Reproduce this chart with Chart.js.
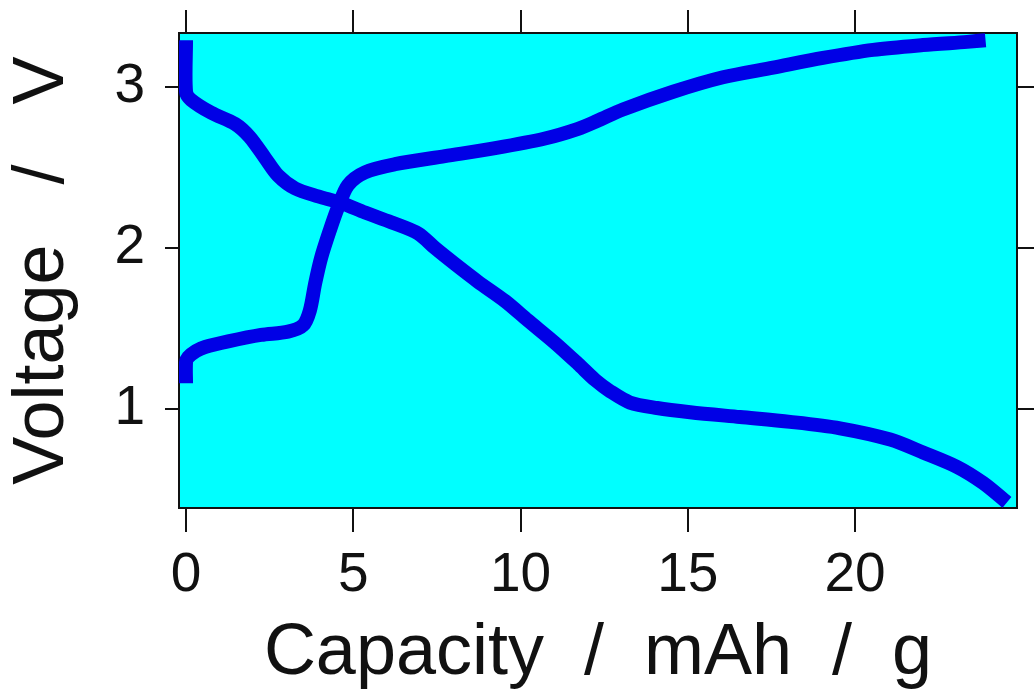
<!DOCTYPE html>
<html>
<head>
<meta charset="utf-8">
<script src="https://cdn.jsdelivr.net/npm/chart.js@4.4.0/dist/chart.umd.min.js"></script>
<style>
  html, body { margin: 0; padding: 0; background: #fff; }
  canvas { display: block; }
</style>
</head>
<body>
<canvas id="voltageChart" width="1034" height="697"></canvas>
<script>
// charge curve (voltage rising)
const chargeCapacity = [0, 0, 0.06, 0.3, 0.57, 1.26, 2.24, 3.05, 3.5, 3.7, 3.86, 4.04, 4.3, 4.54, 4.84, 5.35, 6.25, 7.74, 9.24, 10.73, 11.72, 12.3, 13.06, 14.56, 16.05, 17.55, 19.04, 20.54, 22.03, 23.35, 23.9]
const chargeVoltage = [1.16, 1.29, 1.32, 1.36, 1.385, 1.42, 1.46, 1.48, 1.52, 1.61, 1.78, 1.94, 2.11, 2.25, 2.39, 2.47, 2.52, 2.57, 2.62, 2.68, 2.74, 2.79, 2.86, 2.97, 3.06, 3.12, 3.18, 3.23, 3.26, 3.28, 3.29]

// discharge curve (voltage falling)
const dischargeCapacity = [0, 0, 0.15, 0.75, 1.47, 1.9, 2.36, 2.75, 3.26, 3.95, 4.63, 5.35, 6.13, 6.94, 7.44, 8.04, 8.73, 9.54, 10.22, 11.03, 11.72, 12.23, 12.68, 13.27, 14.08, 15.07, 16.56, 18.06, 19.55, 21.05, 22.03, 23.05, 23.83, 24.54]
const dischargeVoltage = [3.29, 2.97, 2.92, 2.84, 2.77, 2.69, 2.56, 2.45, 2.37, 2.32, 2.28, 2.22, 2.16, 2.09, 2.0, 1.9, 1.79, 1.67, 1.55, 1.41, 1.28, 1.18, 1.11, 1.04, 1.006, 0.98, 0.95, 0.92, 0.88, 0.81, 0.73, 0.64, 0.54, 0.42]

const xTicks = [0, 5, 10, 15, 20]
const yTicks = [1, 2, 3]

const tickFont = "'Liberation Sans Narrow', 'Liberation Sans', Arial, sans-serif"
const titleFont = "'Liberation Sans', Arial, sans-serif"
const ink = '#111'
const lineBlue = '#0000e6'

const toPoints = (xs, ys) => xs.map((x, i) => ({x: x, y: ys[i]}))

const plotBackground = {
    id: 'plotBackground',
    beforeDraw(chart) {
        const {ctx, chartArea} = chart
        ctx.save()
        ctx.fillStyle = '#00ffff'
        ctx.fillRect(chartArea.left, chartArea.top, chartArea.right - chartArea.left, chartArea.bottom - chartArea.top)
        ctx.restore()
    }
}

const axisBase = (ticksList, tickLen) => ({
    type: 'linear',
    grid: { drawOnChartArea: false, drawTicks: true, tickLength: tickLen, color: ink, lineWidth: 2 },
    border: { display: true, color: ink, width: 2 },
    afterBuildTicks: (s) => { s.ticks = ticksList.map(v => ({value: v})) }
})

// fixed box sizes so the plot area sits where it does in the picture
const fixSize = (w, h) => (s) => {
    if (w !== null) s.width = w
    if (h !== null) s.height = h
    s.paddingTop = 0
    s.paddingBottom = 0
    s.paddingLeft = 0
    s.paddingRight = 0
}

const ctl = document.getElementById('voltageChart')
new Chart(ctl, {
    type: 'scatter',
    data: {
        datasets: [
            {
                label: 'charge',
                data: toPoints(chargeCapacity, chargeVoltage),
                showLine: true,
                borderColor: lineBlue,
                backgroundColor: lineBlue,
                borderWidth: 14,
                borderCapStyle: 'butt',
                pointRadius: 0,
                tension: 0.3
            },
            {
                label: 'discharge',
                data: toPoints(dischargeCapacity, dischargeVoltage),
                showLine: true,
                borderColor: lineBlue,
                backgroundColor: lineBlue,
                borderWidth: 14,
                borderCapStyle: 'butt',
                pointRadius: 0,
                tension: 0.3
            }
        ]
    },
    options: {
        responsive: false,
        animation: false,
        layout: { padding: 0 },
        plugins: {
            legend: { display: false },
            tooltip: { enabled: false }
        },
        scales: {
            x: {
                ...axisBase(xTicks, 24),
                position: 'bottom',
                min: -0.21,
                max: 24.84,
                afterFit: fixSize(null, 189),
                ticks: { color: ink, font: { family: tickFont, size: 55 }, padding: 11, maxRotation: 0 },
                title: {
                    display: true,
                    text: 'Capacity  /  mAh  /  g',
                    color: ink,
                    font: { family: titleFont, size: 72 },
                    padding: { top: 0, bottom: 0 }
                }
            },
            x2: {
                ...axisBase(xTicks, 23),
                position: 'top',
                min: -0.21,
                max: 24.84,
                afterFit: fixSize(null, 33),
                ticks: { display: false }
            },
            y: {
                ...axisBase(yTicks, 14),
                position: 'left',
                min: 0.385,
                max: 3.335,
                afterFit: fixSize(179, null),
                ticks: { color: ink, font: { family: tickFont, size: 55 }, padding: 20 },
                title: {
                    display: true,
                    text: 'Voltage   /   V',
                    color: ink,
                    font: { family: titleFont, size: 72 },
                    padding: { top: 0, bottom: 0 }
                }
            },
            y2: {
                ...axisBase(yTicks, 17),
                position: 'right',
                min: 0.385,
                max: 3.335,
                afterFit: fixSize(17, null),
                ticks: { display: false }
            }
        }
    },
    plugins: [plotBackground]
})
</script>
</body>
</html>
